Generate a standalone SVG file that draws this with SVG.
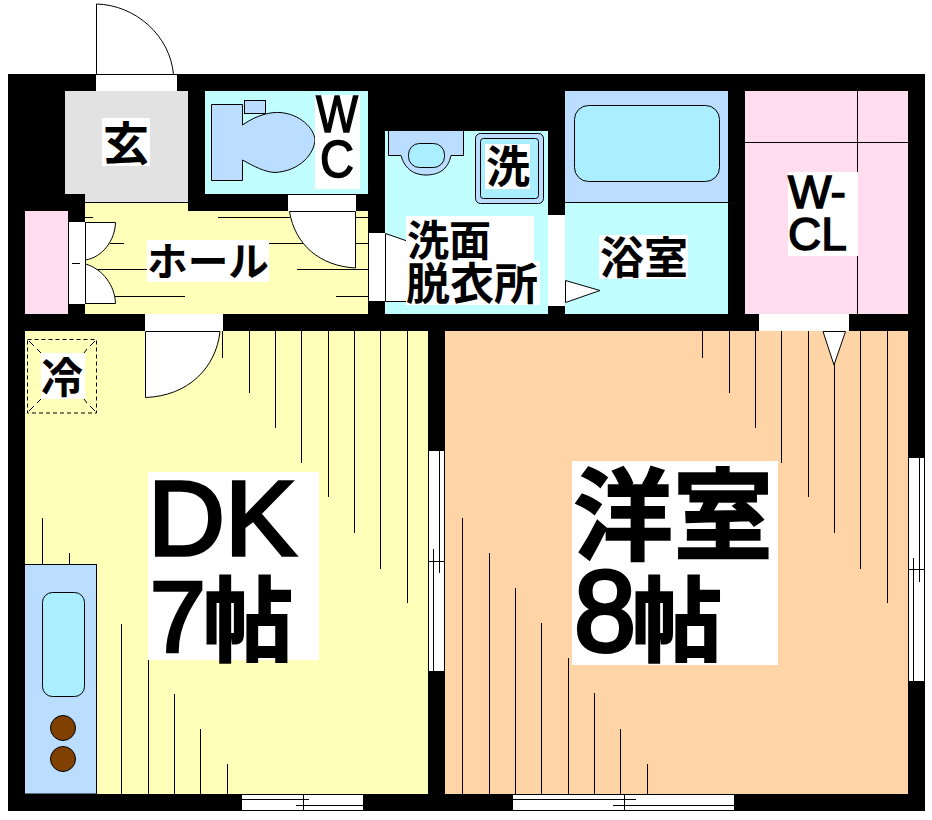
<svg xmlns="http://www.w3.org/2000/svg" width="932" height="820" viewBox="0 0 932 820">
<style>
.l{stroke:#000;stroke-width:1;fill:none}
.w{fill:#fff}
.wl{fill:#fff;stroke:#000;stroke-width:1}
.bl{fill:#bbddff;stroke:#000;stroke-width:1}
.sk{fill:#aaeeff;stroke:#000;stroke-width:1}
text{font-family:"Noto Sans CJK JP","Liberation Sans",sans-serif;font-weight:700;fill:#000}
.a{font-family:"Liberation Sans","Noto Sans CJK JP",sans-serif;font-weight:400;stroke:#000}
</style>
<rect width="932" height="820" fill="#fff"/>
<rect id="walls" x="8" y="74" width="917" height="737" fill="#000"/>

<g id="genkan">
<path d="M65 91H188V202H85V194H65Z" fill="#e2e2e2"/>
<rect class="w" x="102" y="118" width="48" height="48"/>
<text x="103" y="160" font-size="46">玄</text>
</g>

<g id="hall">
<path d="M85 202H188V211H368V314H85Z" fill="#ffffb9"/>
<path class="l" d="M85 202.500H188M85 217.500H93M218 217.500H290M356 217.500H368M110 243.500H124M269 243.500H305M356 243.500H368M85 269.500H147M297 269.500H368M115 296.500H185M336 296.500H368"/>
<rect class="w" x="147" y="240" width="122" height="42"/>
<text x="147" y="276" font-size="40" textLength="122" lengthAdjust="spacingAndGlyphs">ホール</text>
</g>

<g id="closet">
<rect x="25" y="211" width="43" height="103" fill="#ffddee"/>
<rect class="w" x="68" y="222" width="17" height="82"/>
<path class="l" d="M68.500 222V304M85.500 222V304M72 263.500H80"/>
<path class="wl" d="M85.500 222.500H115.500C115 240 103 257 85.500 260Z"/>
<path class="wl" d="M85.500 303.500H115.500C115 286 103 269 85.500 264Z"/>
</g>

<g id="wc">
<rect x="205" y="91" width="163" height="103" fill="#c1ffff"/>
<path class="bl" d="M211.500 104.500H242.500V125C258 114 272 112 280 112.500C300 114 314 128 315 140C314 154 300 171 275 172.500C265 172 255 167 242.500 160V180.500H211.500Z"/>
<rect class="bl" x="244.500" y="100.500" width="21" height="13"/>
<rect class="w" x="315" y="95" width="45" height="94"/>
<text class="a" x="316" y="132" font-size="52" stroke-width="1.500" textLength="42" lengthAdjust="spacingAndGlyphs">W</text>
<text class="a" x="320" y="177" font-size="52" stroke-width="1.500" textLength="34" lengthAdjust="spacingAndGlyphs">C</text>
</g>

<g id="wc-door">
<rect class="w" x="288" y="194" width="68" height="17"/>
<path class="wl" d="M289.500 211.500H355.500V268C320 266 295 245 289.500 211.500Z"/>
<path class="l" d="M288 194.500H356"/>
</g>

<g id="washroom">
<rect x="385" y="131" width="163" height="183" fill="#c1ffff"/>
<path class="bl" d="M388.500 131V155.500H401C405 170 415 175 426 175C438 175 448 170 451 155.500H463.500V131"/>
<rect class="sk" x="408.500" y="143.500" width="36" height="24" rx="11"/>
<rect x="475.500" y="133.500" width="68" height="70" rx="5" fill="#bbddff" stroke="#000"/>
<rect class="sk" x="480.500" y="138.500" width="58" height="60" rx="3"/>
<rect class="w" x="485" y="144" width="45" height="45"/>
<text x="486" y="183" font-size="44">洗</text>
<rect class="w" x="368" y="233" width="17" height="68"/>
<path class="wl" d="M385.500 233.500L410 242V301.500H385.500Z"/>
<path class="l" d="M368.500 233V301M368 301.500H385"/>
<rect class="w" x="406" y="216" width="128" height="46"/>
<rect class="w" x="406" y="261" width="134" height="44"/>
<text x="407" y="256" font-size="42">洗面</text>
<text x="406" y="300" font-size="44">脱衣所</text>
</g>

<g id="bath">
<rect x="565" y="91" width="163" height="111" fill="#bbddff"/>
<rect x="565" y="202" width="163" height="112" fill="#c1ffff"/>
<path class="l" d="M565 202.500H728"/>
<rect class="sk" x="574.500" y="105.500" width="145" height="76" rx="14"/>
<rect class="w" x="548" y="215" width="17" height="91"/>
<path class="wl" d="M565.500 280.500L600 290.500L565.500 302.500Z"/>
<rect class="w" x="599" y="235" width="89" height="44"/>
<text x="600" y="274" font-size="44">浴室</text>
</g>

<g id="wcl">
<rect x="745" y="91" width="163" height="223" fill="#ffddee"/>
<path class="l" d="M745 142.500H908M857.500 91V314"/>
<rect class="w" x="788" y="172" width="70" height="84"/>
<text class="a" x="788" y="208" font-size="46" stroke-width="1.500">W-</text>
<text class="a" x="788" y="250" font-size="46" stroke-width="1.500">CL</text>
</g>

<g id="dk">
<rect x="25" y="331" width="403" height="463" fill="#ffffb9"/>
<path class="l" d="M222.500 331V358M249.500 331V393M275.500 331V428M301.500 331V463M328.500 331V497M354.500 331V533M380.500 331V569M407.500 331V603M42.500 518V564M69.500 553V564M121.500 624V794M148.500 660V794M174.500 694V794M200.500 729V794M227.500 764V794"/>
<rect class="w" x="148" y="472" width="171" height="188"/>
<text class="a" x="148" y="555" font-size="105" stroke-width="3.500" textLength="148" lengthAdjust="spacingAndGlyphs">DK</text>
<text class="a" x="150" y="652" font-size="100" stroke-width="3.500">7</text>
<text x="203" y="654" font-size="92" textLength="90" lengthAdjust="spacingAndGlyphs" stroke="#000" stroke-width="2">帖</text>
</g>

<g id="dk-door">
<rect class="w" x="145" y="314" width="78" height="17"/>
<path class="wl" d="M145.500 331.500H220C216 368 188 396 145.500 397.500Z"/>
</g>

<g id="fridge">
<rect x="27.500" y="339.500" width="69" height="73.500" fill="none" stroke="#000" stroke-dasharray="4 3"/>
<path class="l" d="M29 341L34 346M37 349L41 353M95 341L90 346M87 349L84 353M29 411L34 406M37 403L41 399M95 411L90 406M87 403L84 399"/>
<rect class="w" x="41" y="353" width="44" height="46"/>
<text x="41" y="393" font-size="42">冷</text>
</g>

<g id="kitchen">
<rect class="bl" x="24.500" y="564.500" width="72" height="229.500"/>
<rect class="sk" x="42.500" y="592.500" width="42" height="104" rx="10"/>
<circle cx="63" cy="728" r="12.500" fill="#804000" stroke="#000"/>
<circle cx="63" cy="759" r="12.500" fill="#804000" stroke="#000"/>
</g>

<g id="youshitsu">
<rect x="445" y="331" width="463" height="463" fill="#ffd5a8"/>
<path class="l" d="M702.500 331V358M729.500 331V393M755.500 331V428M781.500 331V463M808.500 331V497M834.500 331V533M860.500 331V569M887.500 331V603M462.500 518V794M489.500 553V794M515.500 588V794M541.500 623V794M568.500 658V794M594.500 693V794M620.500 729V794M647.500 764V794"/>
<rect class="w" x="572" y="461" width="206" height="204"/>
<text x="573" y="552" font-size="100" stroke="#000" stroke-width="1.500">洋室</text>
<text class="a" x="574" y="651" font-size="115" stroke-width="4" textLength="62" lengthAdjust="spacingAndGlyphs">8</text>
<text x="632" y="654" font-size="92" textLength="90" lengthAdjust="spacingAndGlyphs" stroke="#000" stroke-width="2">帖</text>
</g>

<g id="openings">
<rect class="w" x="759" y="314" width="90" height="17"/>
<path class="wl" d="M823 331.500L834 365L845.500 331.500Z"/>
<rect class="w" x="96" y="74" width="81" height="17"/>
<path class="wl" d="M96.500 74.500V4C135 5 170 35 173.500 74.500Z"/>
<path class="l" d="M96 74.500H177"/>
<rect class="w" x="428" y="451" width="17" height="220"/>
<path class="l" d="M428.500 451V671M444.500 451V671M439.500 451V573M433.500 549V671M428 561.500H444"/>
<rect class="w" x="908" y="458" width="17" height="223"/>
<path class="l" d="M908.500 458V681M924.500 458V681M919.500 458V582M913.500 558V681M908 569.500H924"/>
<rect class="w" x="242" y="794" width="122" height="17"/>
<path class="l" d="M242 794.500H364M242 810.500H364M242 799.500H309M296 805.500H364M303.500 794V811M363.500 794V811"/>
<rect class="w" x="513" y="794" width="222" height="17"/>
<path class="l" d="M513 794.500H735M513 810.500H735M513 799.500H636M613 805.500H735M624.500 794V811M734.500 794V811"/>
</g>
</svg>
